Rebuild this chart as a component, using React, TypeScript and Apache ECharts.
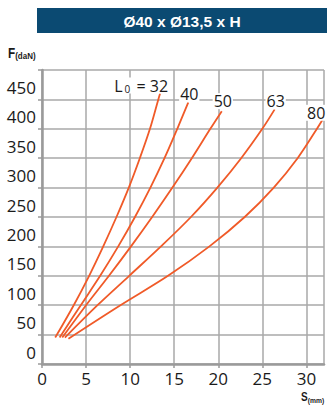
import React, { useEffect, useRef } from 'react';
import * as echarts from 'echarts';

const titleText = 'Ø40 x Ø13,5 x H';
const yAxisName = 'F';
const yAxisUnit = '(daN)';
const xAxisName = 'S';
const xAxisUnit = '(mm)';

const curveLabels = ['32', '40', '50', '63', '80'];

// [S (mm), F (daN)]
const curve32 = [[1.5, 45], [3.6, 100], [5.35, 150], [6.95, 200], [8.45, 250], [9.85, 300], [11.1, 350], [12.25, 400], [13.2, 450], [13.4, 460]];
const curve40 = [[2.0, 45], [4.4, 100], [6.6, 150], [8.65, 200], [10.55, 250], [12.3, 300], [13.9, 350], [15.35, 400], [16.6, 445]];
const curve50 = [[2.3, 45], [5.0, 100], [7.6, 150], [10.1, 200], [12.5, 250], [14.8, 300], [17.0, 350], [19.1, 400], [20.4, 430]];
const curve63 = [[2.6, 45], [6.3, 100], [9.9, 150], [13.5, 200], [16.9, 250], [19.9, 300], [22.6, 350], [25.0, 400], [26.4, 433]];
const curve80 = [[3.0, 43], [8.9, 100], [14.3, 150], [19.0, 200], [23.0, 250], [26.3, 300], [29.0, 350], [31.2, 400], [31.9, 417]];

const curves = [curve32, curve40, curve50, curve63, curve80];
const labelOffsets = [[9, 0], [1, 0], [1, -2], [1, 0], [-7, 2]];

const ORANGE = '#f05a28';
const GRID = '#a8a8a8';
const AXIS = '#9a9a9a';
const TEXT = '#1a1a1a';
const SANS = '"Liberation Sans", Arial, sans-serif';

export default function App() {
  const ref = useRef<HTMLDivElement>(null);

  useEffect(() => {
    if (!ref.current) return;
    const chart = echarts.init(ref.current, undefined, { renderer: 'svg' });

    const series = curves.map((data, i) => ({
      type: 'line',
      name: curveLabels[i],
      data,
      smooth: 0.35,
      showSymbol: false,
      symbol: 'none',
      clip: false,
      lineStyle: { color: ORANGE, width: 1.8 },
      itemStyle: { color: ORANGE },
      endLabel: {
        show: true,
        distance: 0,
        align: i === 0 ? 'right' : 'center',
        verticalAlign: 'bottom',
        offset: labelOffsets[i],
        backgroundColor: '#ffffff',
        padding: [0, 1, 0, 1],
        fontFamily: 'Open Sans',
        fontSize: 16,
        lineHeight: 16,
        color: TEXT,
        formatter: i === 0 ? '{l|L}{s|0}{l| = ' + curveLabels[i] + '}' : curveLabels[i],
        rich: {
          l: { fontFamily: 'Open Sans', fontSize: 16, lineHeight: 16, color: TEXT },
          s: {
            fontFamily: 'Open Sans',
            fontSize: 10,
            lineHeight: 8,
            verticalAlign: 'bottom',
            color: TEXT,
            padding: [0, 2, 0, 2],
          },
        },
      },
    }));

    chart.setOption({
      animation: false,
      backgroundColor: '#ffffff',
      grid: { left: 42, right: 3, top: 70, bottom: 41, containLabel: false },
      xAxis: {
        type: 'value',
        min: 0,
        max: 32,
        interval: 5,
        axisLine: { show: true, onZero: false, lineStyle: { color: AXIS, width: 2.5 } },
        axisTick: { show: true, length: 4, lineStyle: { color: AXIS, width: 1.5 } },
        splitLine: { show: true, lineStyle: { color: GRID, width: 1.5 } },
        axisLabel: {
          show: true,
          margin: 6,
          fontFamily: 'Open Sans',
          fontSize: 17,
          color: TEXT,
          showMaxLabel: false,
          formatter: (v: number) => (v % 5 === 0 ? String(v) : ''),
        },
      },
      yAxis: {
        type: 'value',
        min: 0,
        max: 500,
        interval: 50,
        axisLine: { show: true, onZero: false, lineStyle: { color: AXIS, width: 2.5 } },
        axisTick: { show: true, length: 4, lineStyle: { color: AXIS, width: 1.5 } },
        splitLine: { show: true, lineStyle: { color: GRID, width: 1.5 } },
        axisLabel: {
          show: true,
          margin: 6,
          fontFamily: 'Open Sans',
          fontSize: 17,
          lineHeight: 24,
          verticalAlign: 'bottom',
          color: TEXT,
          formatter: (v: number) => (v >= 500 ? '' : String(v)),
        },
      },
      graphic: [
        {
          type: 'rect',
          left: 37,
          top: 8,
          shape: { width: 290, height: 25 },
          style: { fill: '#0b4a72' },
          silent: true,
        },
        {
          type: 'text',
          x: 182,
          y: 21,
          style: {
            text: titleText,
            fill: '#ffffff',
            font: 'bold 15.5px ' + SANS,
            align: 'center',
            verticalAlign: 'middle',
          },
          silent: true,
        },
        {
          type: 'text',
          x: 8,
          y: 53,
          scaleX: 0.84,
          style: {
            text: '{a|' + yAxisName + '}{b|' + yAxisUnit + '}',
            verticalAlign: 'middle',
            rich: {
              a: { font: 'bold 14px ' + SANS, fill: TEXT, lineHeight: 16 },
              b: { font: 'bold 9.5px ' + SANS, fill: TEXT, lineHeight: 14, verticalAlign: 'bottom' },
            },
          },
          silent: true,
        },
        {
          type: 'text',
          x: 301,
          y: 397,
          scaleX: 0.84,
          style: {
            text: '{a|' + xAxisName + '}{b|' + xAxisUnit + '}',
            verticalAlign: 'middle',
            rich: {
              a: { font: 'bold 12px ' + SANS, fill: TEXT, lineHeight: 14 },
              b: { font: 'bold 8px ' + SANS, fill: TEXT, lineHeight: 12, verticalAlign: 'bottom' },
            },
          },
          silent: true,
        },
      ],
      series,
    });

    return () => chart.dispose();
  }, []);

  return (
    <div
      ref={ref}
      style={{ position: 'fixed', left: 0, top: 0, width: 327, height: 405 }}
    />
  );
}
